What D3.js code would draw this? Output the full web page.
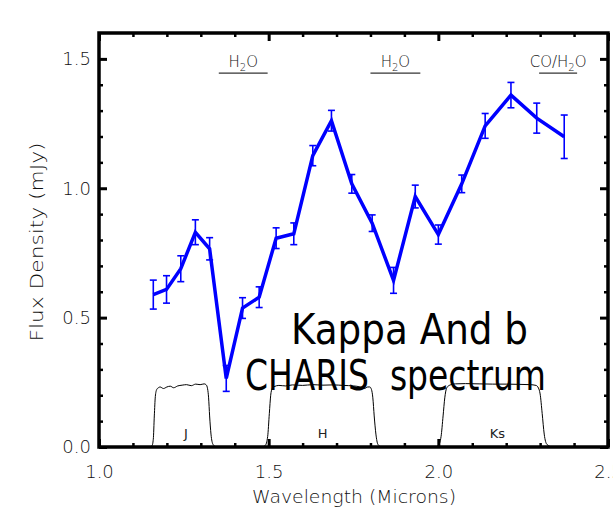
<!DOCTYPE html>
<html><head><meta charset="utf-8">
<script src="https://cdn.jsdelivr.net/npm/d3@7"></script>
<style>body{margin:0;background:#fff}svg{display:block}</style>
</head><body><svg id="c" width="613" height="509"></svg>
<script>
// ---- data ----
const wavelength = [1.160,1.199,1.241,1.284,1.326,1.375,1.423,1.472,1.522,1.574,1.630,1.685,1.745,1.805,1.868,1.932,2.000,2.069,2.138,2.214,2.290,2.371];
const flux       = [0.589,0.609,0.689,0.830,0.766,0.265,0.537,0.579,0.807,0.824,1.126,1.261,1.017,0.865,0.644,0.968,0.821,1.017,1.241,1.360,1.271,1.199];
const fluxErr    = [0.056,0.053,0.050,0.048,0.043,0.050,0.040,0.040,0.040,0.042,0.039,0.040,0.036,0.032,0.050,0.044,0.037,0.034,0.048,0.049,0.058,0.084];

const xMajorTicks = [1.0,1.5,2.0,2.5];
const yMajorTicks = [0.0,0.5,1.0,1.5];

const filterJ  = [[1.150,0],[1.156,0.004],[1.160,0.03],[1.163,0.12],[1.166,0.195],[1.170,0.222],[1.175,0.229],[1.180,0.232],[1.190,0.226],[1.200,0.232],[1.210,0.235],[1.220,0.229],[1.232,0.236],[1.245,0.239],[1.258,0.241],[1.272,0.237],[1.285,0.243],[1.298,0.241],[1.310,0.244],[1.316,0.240],[1.320,0.225],[1.323,0.19],[1.326,0.12],[1.330,0.05],[1.336,0.01],[1.345,0]];
const filterH  = [[1.480,0],[1.490,0.006],[1.497,0.04],[1.502,0.13],[1.506,0.2],[1.510,0.225],[1.516,0.233],[1.530,0.238],[1.550,0.236],[1.570,0.240],[1.600,0.238],[1.630,0.241],[1.660,0.239],[1.690,0.240],[1.720,0.238],[1.750,0.236],[1.770,0.232],[1.782,0.226],[1.792,0.232],[1.798,0.232],[1.803,0.222],[1.807,0.19],[1.811,0.12],[1.816,0.05],[1.822,0.01],[1.832,0]];
const filterKs = [[1.990,0],[2.000,0.006],[2.008,0.04],[2.014,0.12],[2.019,0.19],[2.024,0.226],[2.032,0.238],[2.050,0.244],[2.080,0.245],[2.120,0.244],[2.160,0.243],[2.200,0.243],[2.240,0.242],[2.270,0.241],[2.288,0.238],[2.295,0.228],[2.300,0.205],[2.306,0.13],[2.312,0.05],[2.320,0.01],[2.335,0]];
const filterCurves = [filterJ, filterH, filterKs];
const filterNames  = ["J","H","Ks"];
const filterLabelX = [1.256,1.659,2.174];

const bandNames = [["H","2","O"],["H","2","O"],["CO/H","2","O"]];
const bandStart = [1.353,1.800,2.297];
const bandEnd   = [1.497,1.947,2.409];

const titleLines = ["Kappa And b","CHARIS  spectrum"];

// ---- drawing ----
const svg = d3.select("#c");
const x = d3.scaleLinear().domain([1.0,2.5]).range([99,608]);
const y = d3.scaleLinear().domain([0,1.6]).range([447,33]);
const txt = "#111";
const font = "'DejaVu Sans', sans-serif";

// filter curves
const fl = d3.line().x(d=>x(d[0])).y(d=>y(d[1])).curve(d3.curveMonotoneX);
svg.append("g").selectAll("path").data(filterCurves).join("path")
  .attr("d", fl).attr("fill","none").attr("stroke","#000").attr("stroke-width",1);
svg.append("g").selectAll("text").data(filterNames).join("text")
  .attr("x",(d,i)=>x(filterLabelX[i])).attr("y",438)
  .attr("text-anchor","middle").attr("font-family",font).attr("font-size",13)
  .attr("fill","#222").text(d=>d);

// big title text
const tl = svg.append("g").attr("font-family","'DejaVu Sans Condensed','Liberation Sans Narrow',sans-serif")
  .attr("font-stretch","condensed").attr("fill","#000").attr("font-size",43);
tl.append("text").attr("x",291).attr("y",344).attr("textLength",237)
  .attr("lengthAdjust","spacingAndGlyphs").text(titleLines[0]);
tl.append("text").attr("x",245).attr("y",390).attr("textLength",301)
  .attr("lengthAdjust","spacingAndGlyphs").attr("xml:space","preserve").style("white-space","pre").text(titleLines[1]);

// band annotations
const ba = svg.append("g");
bandNames.forEach((parts,i)=>{
  const cx = (x(bandStart[i])+x(bandEnd[i]))/2;
  ba.append("line").attr("x1",x(bandStart[i])).attr("x2",x(bandEnd[i]))
    .attr("y1",y(1.445)).attr("y2",y(1.445)).attr("stroke","#000").attr("stroke-width",1);
  const t = ba.append("text").attr("x",cx).attr("y",y(1.469)).attr("text-anchor","middle")
    .attr("font-family",font).attr("font-size",15).attr("font-weight",300).attr("fill",txt);
  t.append("tspan").text(parts[0]);
  t.append("tspan").attr("font-size",10).attr("dy",4).text(parts[1]);
  t.append("tspan").attr("dy",-4).text(parts[2]);
});

// spectrum
const pts = wavelength.map((w,i)=>({w, f:flux[i], e:fluxErr[i]}));
const eb = svg.append("g").attr("stroke","#0000ff").attr("stroke-width",1.6);
eb.selectAll("line.v").data(pts).join("line").attr("class","v")
  .attr("x1",d=>x(d.w)).attr("x2",d=>x(d.w)).attr("y1",d=>y(d.f-d.e)).attr("y2",d=>y(d.f+d.e));
eb.selectAll("line.t").data(pts).join("line").attr("class","t")
  .attr("x1",d=>x(d.w)-3.5).attr("x2",d=>x(d.w)+3.5).attr("y1",d=>y(d.f+d.e)).attr("y2",d=>y(d.f+d.e));
eb.selectAll("line.b").data(pts).join("line").attr("class","b")
  .attr("x1",d=>x(d.w)-3.5).attr("x2",d=>x(d.w)+3.5).attr("y1",d=>y(d.f-d.e)).attr("y2",d=>y(d.f-d.e));
svg.append("path").datum(pts)
  .attr("d", d3.line().x(d=>x(d.w)).y(d=>y(d.f)))
  .attr("fill","none").attr("stroke","#0000ff").attr("stroke-width",3.5).attr("stroke-linejoin","miter");

// axes: ticks
const xMinor = d3.range(1.1,2.5,0.1).filter(v=>Math.abs(v*2-Math.round(v*2))>1e-6);
const yMinor = d3.range(0.1,1.6,0.1).filter(v=>Math.abs(v*2-Math.round(v*2))>1e-6);
function styleAxis(g){ g.select(".domain").remove(); g.selectAll(".tick line").attr("stroke","#000"); }
function styleText(g){ g.selectAll("text").attr("font-family",font).attr("font-size",18).attr("font-weight",300).attr("fill",txt); }
// bottom
svg.append("g").attr("transform",`translate(0,${y(0)})`)
  .call(d3.axisBottom(x).tickValues(xMajorTicks).tickSizeInner(-8).tickSizeOuter(0).tickPadding(18).tickFormat(d3.format(".1f")))
  .call(styleAxis).call(g=>g.selectAll(".tick line").attr("stroke-width",3)).call(styleText);
svg.append("g").attr("transform",`translate(0,${y(0)})`)
  .call(d3.axisBottom(x).tickValues(xMinor).tickSizeInner(-4).tickSizeOuter(0).tickFormat(""))
  .call(styleAxis).call(g=>g.selectAll(".tick line").attr("stroke-width",2.5));
// top
svg.append("g").attr("transform",`translate(0,${y(1.6)})`)
  .call(d3.axisTop(x).tickValues(xMajorTicks).tickSizeInner(-8).tickSizeOuter(0).tickFormat(""))
  .call(styleAxis).call(g=>g.selectAll(".tick line").attr("stroke-width",3));
svg.append("g").attr("transform",`translate(0,${y(1.6)})`)
  .call(d3.axisTop(x).tickValues(xMinor).tickSizeInner(-4).tickSizeOuter(0).tickFormat(""))
  .call(styleAxis).call(g=>g.selectAll(".tick line").attr("stroke-width",2.5));
// left
svg.append("g").attr("transform",`translate(${x(1.0)},0)`)
  .call(d3.axisLeft(y).tickValues(yMajorTicks).tickSizeInner(-8).tickSizeOuter(0).tickPadding(8).tickFormat(d3.format(".1f")))
  .call(styleAxis).call(g=>g.selectAll(".tick line").attr("stroke-width",3)).call(styleText);
svg.append("g").attr("transform",`translate(${x(1.0)},0)`)
  .call(d3.axisLeft(y).tickValues(yMinor).tickSizeInner(-4).tickSizeOuter(0).tickFormat(""))
  .call(styleAxis).call(g=>g.selectAll(".tick line").attr("stroke-width",2.5));
// right
svg.append("g").attr("transform",`translate(${x(2.5)},0)`)
  .call(d3.axisRight(y).tickValues(yMajorTicks).tickSizeInner(-8).tickSizeOuter(0).tickFormat(""))
  .call(styleAxis).call(g=>g.selectAll(".tick line").attr("stroke-width",3));
svg.append("g").attr("transform",`translate(${x(2.5)},0)`)
  .call(d3.axisRight(y).tickValues(yMinor).tickSizeInner(-4).tickSizeOuter(0).tickFormat(""))
  .call(styleAxis).call(g=>g.selectAll(".tick line").attr("stroke-width",2.5));

// frame
svg.append("rect").attr("x",x(1.0)).attr("y",y(1.6)).attr("width",x(2.5)-x(1.0)).attr("height",y(0)-y(1.6))
  .attr("fill","none").attr("stroke","#000").attr("stroke-width",3.5);

// axis titles
svg.append("text").attr("x",354).attr("y",503).attr("text-anchor","middle")
  .attr("font-family",font).attr("font-size",18).attr("font-weight",300).attr("fill",txt)
  .attr("textLength",204).attr("lengthAdjust","spacingAndGlyphs").text("Wavelength (Microns)");
svg.append("text").attr("transform","translate(43,242) rotate(-90)").attr("text-anchor","middle")
  .attr("font-family",font).attr("font-size",18).attr("font-weight",300).attr("fill",txt)
  .attr("textLength",199).attr("lengthAdjust","spacingAndGlyphs").text("Flux Density (mJy)");
</script></body></html>
